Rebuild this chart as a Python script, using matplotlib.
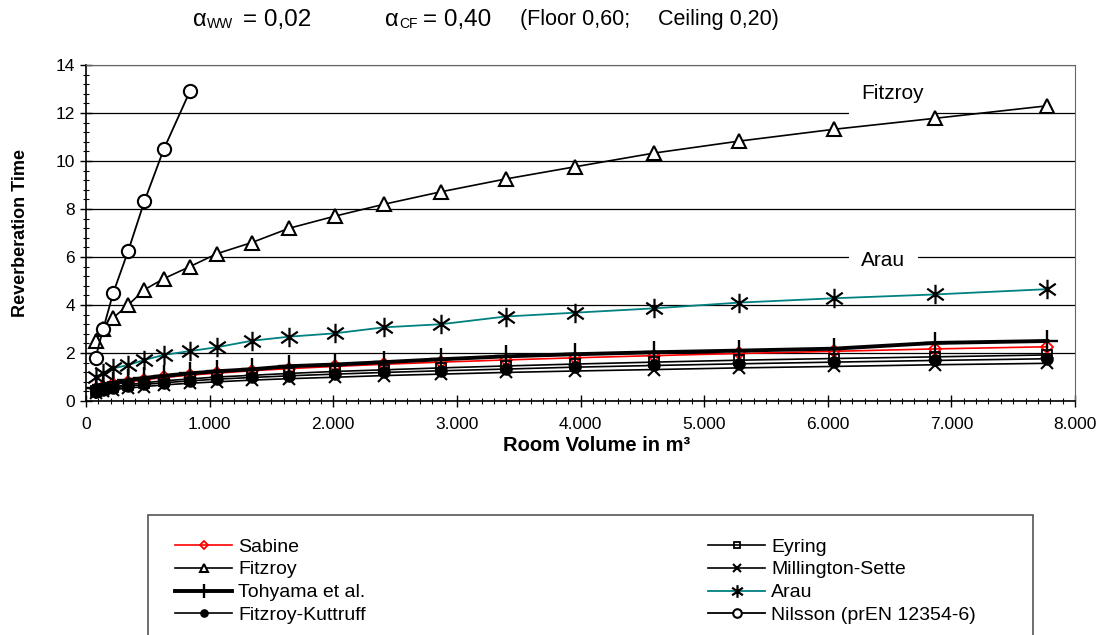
import numpy as np
import matplotlib
matplotlib.use("Agg")
import matplotlib.pyplot as plt
from matplotlib.path import Path
from matplotlib.patches import Rectangle
from matplotlib.ticker import MultipleLocator, FuncFormatter

plt.rcParams['font.family'] = ['Liberation Sans', 'DejaVu Sans']

# room volumes (m3) and reverberation times
volumes = [77, 139, 220, 341, 473, 630, 840, 1060, 1340, 1645, 2012, 2412,
           2874, 3394, 3957, 4594, 5285, 6048, 6869, 7776]
sabine = [0.48, 0.59, 0.69, 0.80, 0.89, 0.98, 1.08, 1.16, 1.26, 1.35, 1.44, 1.53,
          1.62, 1.71, 1.80, 1.89, 1.98, 2.07, 2.17, 2.26]
eyring = [0.42, 0.51, 0.59, 0.68, 0.76, 0.84, 0.92, 1.00, 1.07, 1.15, 1.23, 1.30,
          1.38, 1.46, 1.54, 1.62, 1.70, 1.77, 1.84, 1.92]
fitzroy = [2.5, 3.0, 3.47, 4.0, 4.64, 5.1, 5.6, 6.14, 6.6, 7.2, 7.7, 8.2,
           8.72, 9.25, 9.76, 10.33, 10.83, 11.32, 11.78, 12.3]
millington = [0.33, 0.40, 0.47, 0.54, 0.60, 0.67, 0.74, 0.80, 0.87, 0.93, 0.99, 1.06,
              1.12, 1.19, 1.25, 1.31, 1.38, 1.44, 1.51, 1.57]
tohyama = [0.55, 0.66, 0.76, 0.87, 0.96, 1.05, 1.15, 1.24, 1.32, 1.45, 1.52, 1.62,
           1.74, 1.86, 1.95, 2.03, 2.10, 2.18, 2.42, 2.50]
arau = [1.01, 1.15, 1.36, 1.50, 1.71, 1.92, 2.08, 2.24, 2.51, 2.68, 2.82, 3.07,
        3.20, 3.52, 3.68, 3.86, 4.10, 4.28, 4.44, 4.66]
fitzroy_kuttruff = [0.38, 0.46, 0.54, 0.62, 0.69, 0.76, 0.84, 0.91, 0.98, 1.05, 1.12, 1.19,
                    1.26, 1.33, 1.41, 1.48, 1.55, 1.62, 1.69, 1.76]
nilsson = [1.8, 3.0, 4.5, 6.25, 8.33, 10.5, 12.9]

# asterisk marker like the spreadsheet one
star = Path([(0, -1), (0, 1), (-0.85, -0.6), (0.85, 0.6), (-0.85, 0.6), (0.85, -0.6)],
            [Path.MOVETO, Path.LINETO] * 3)

fig = plt.figure(figsize=(11.19, 6.35), dpi=100)
W, H = 1119, 635
ax = fig.add_axes([86 / W, 1 - 401 / H, (1075 - 86) / W, (401 - 65) / H])

ax.plot(volumes, sabine, color='red', lw=1.2, marker='D', ms=6.5, mfc='none', mec='red', mew=1.3, label='Sabine', zorder=3)
ax.plot(volumes, fitzroy, color='black', lw=1.2, marker='^', ms=9.5, mfc='white', mec='black', mew=1.5, label='Fitzroy', zorder=3)
ax.plot(volumes, tohyama, color='black', lw=2.8, marker='+', ms=16, mew=1.7, label='Tohyama et al.', zorder=3)
ax.plot(volumes, fitzroy_kuttruff, color='black', lw=1.2, marker='o', ms=8, mfc='black', mec='black', label='Fitzroy-Kuttruff', zorder=3)
ax.plot(volumes, eyring, color='black', lw=1.2, marker='s', ms=7, mfc='none', mec='black', mew=1.3, label='Eyring', zorder=3)
ax.plot(volumes, millington, color='black', lw=1.2, marker='x', ms=8.5, mew=1.5, label='Millington-Sette', zorder=3)
ax.plot(volumes, arau, color='#008080', lw=1.3, marker=star, ms=14, mec='black', mew=1.6, label='Arau', zorder=3)
ax.plot(volumes[:len(nilsson)], nilsson, color='black', lw=1.3, marker='o', ms=9.5, mfc='white', mec='black', mew=1.5, label='Nilsson (prEN 12354-6)', zorder=3)

ax.set_xlim(0, 8000)
ax.set_ylim(0, 14)
ax.xaxis.set_major_locator(MultipleLocator(1000))
ax.xaxis.set_minor_locator(MultipleLocator(100))
ax.yaxis.set_major_locator(MultipleLocator(2))
ax.yaxis.set_minor_locator(MultipleLocator(0.4))
ax.xaxis.set_major_formatter(FuncFormatter(lambda v, p: f"{int(v):,}".replace(",", ".")))
ax.tick_params(which='major', direction='inout', length=9, width=1, labelsize=12.5)
ax.tick_params(which='minor', direction='inout', length=5, width=0.8)
ax.tick_params(axis='x', which='major', pad=7)
ax.grid(axis='y', which='major', color='black', lw=0.9, zorder=1)
ax.set_axisbelow(True)
for s in ['top', 'right']:
    ax.spines[s].set_color('#666666')
for s in ['left', 'bottom']:
    ax.spines[s].set_linewidth(1.2)

ax.set_ylabel('Reverberation Time', fontsize=13, fontweight='bold')
ax.yaxis.set_label_coords(-0.058, 0.5)
ax.set_xlabel('Room Volume in m³', fontsize=14.5, fontweight='bold')
ax.xaxis.set_label_coords((597 - 86) / 989, -0.105)

ax.text(6270, 12.82, 'Fitzroy', fontsize=15, va='center', ha='left', zorder=2.5,
        bbox=dict(facecolor='white', edgecolor='none', pad=9))
ax.text(6270, 5.85, 'Arau', fontsize=15, va='center', ha='left', zorder=2.5,
        bbox=dict(facecolor='white', edgecolor='none', pad=9))

# header with absorption coefficients
ty = 1 - 20 / H
fig.text(193 / W, ty, 'α', fontsize=17, va='center')
fig.text(207 / W, ty - 4 / H, 'WW', fontsize=10, va='center')
fig.text(243 / W, ty, '= 0,02', fontsize=17.5, va='center')
fig.text(385 / W, ty, 'α', fontsize=17, va='center')
fig.text(399 / W, ty - 4 / H, 'CF', fontsize=10, va='center')
fig.text(423 / W, ty, '= 0,40', fontsize=17.5, va='center')
fig.text(520 / W, ty, '(Floor 0,60;', fontsize=15.5, va='center')
fig.text(658 / W, ty, 'Ceiling 0,20)', fontsize=15.5, va='center')

handles, labels = ax.get_legend_handles_labels()
fig.legend(handles, labels, ncol=2, loc='upper left', bbox_to_anchor=(175 / W, 1 - 538 / H),
           frameon=False, fontsize=14, markerscale=0.65, handlelength=2.95,
           handletextpad=0.3, labelspacing=0.27, columnspacing=17.6, borderaxespad=0,
           borderpad=0)
fig.patches.append(Rectangle((148 / W, -0.02), (1033 - 148) / W, 0.02 + (635 - 515) / H,
                             transform=fig.transFigure, fill=False, edgecolor='#555555', lw=1.2))

fig.savefig('out.png', dpi=100)
